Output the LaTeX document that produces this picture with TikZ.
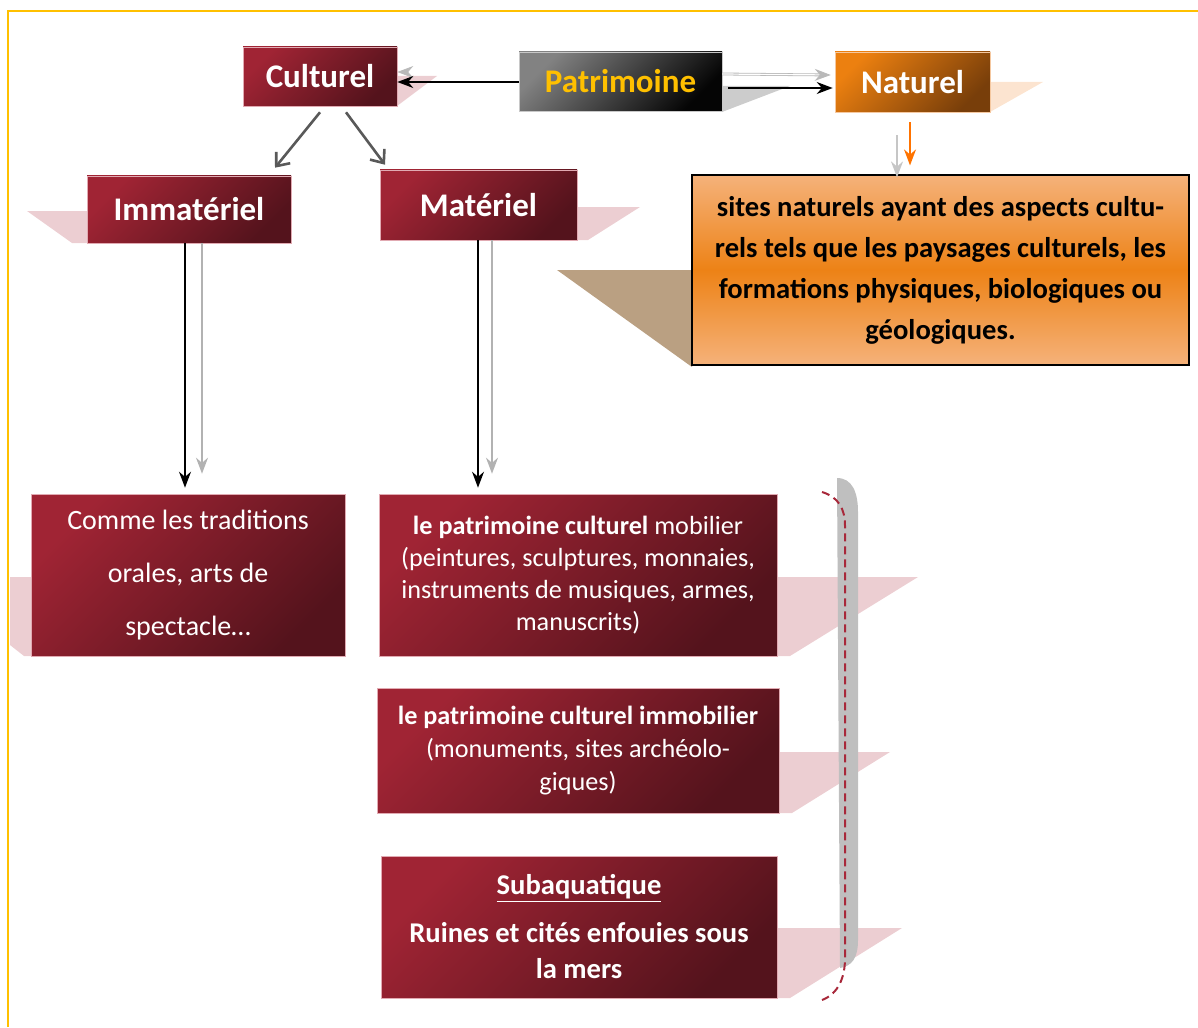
\documentclass[tikz,border=0pt]{standalone}
\usepackage{fontspec}
\setmainfont{Carlito}
\usetikzlibrary{arrows.meta}

\begin{document}
\begin{tikzpicture}[x=1pt,y=-1pt,>={Stealth[length=16pt,width=12pt]},
	red node/.style={draw=rededge,line width=0.6pt,top color=redA,bottom color=redB,shading angle=45,text=white,align=center,inner sep=0pt},
	gray node/.style={draw=grayedge,line width=0.6pt,top color=grayA,bottom color=grayB,shading angle=45,text=patryellow,align=center,inner sep=0pt},
	orange node/.style={draw=orgedge,line width=0.6pt,top color=natA,bottom color=natB,shading angle=45,text=white,align=center,inner sep=0pt},
	site node/.style={draw=black,line width=1.2pt,top color=siteA,bottom color=siteA,middle color=siteB,text=black,align=center,inner sep=0pt},
	head font/.style={font=\fontsize{33}{38}\selectfont\bfseries},
	pink shadow/.style={fill=pinksh},
	black arrow/.style={->,draw=black,line width=1.8pt},
	light arrow/.style={->,draw=gray!55,line width=1.6pt},
	branch arrow/.style={-{Straight Barb[length=11pt,width=18pt]},draw=black!65,line width=2.6pt},
	thin arrow/.style={->,draw=black,line width=1.4pt},
	thin light arrow/.style={->,draw=gray!60,line width=1.8pt}]

	\definecolor{redA}{RGB}{160,36,52}
	\definecolor{redB}{RGB}{84,19,28}
	\definecolor{rededge}{RGB}{225,170,178}
	\definecolor{grayA}{RGB}{130,130,130}
	\definecolor{grayB}{RGB}{5,5,5}
	\definecolor{grayedge}{RGB}{200,200,200}
	\definecolor{patryellow}{RGB}{255,192,0}
	\definecolor{natA}{RGB}{236,128,16}
	\definecolor{natB}{RGB}{120,62,10}
	\definecolor{orgedge}{RGB}{245,200,160}
	\definecolor{siteA}{RGB}{245,178,122}
	\definecolor{siteB}{RGB}{237,130,22}
	\definecolor{pinksh}{RGB}{236,206,210}
	\definecolor{peachsh}{RGB}{252,228,208}
	\definecolor{tansh}{RGB}{186,160,130}
	\definecolor{frame}{RGB}{255,192,0}
	\definecolor{bracered}{RGB}{168,40,58}

	\useasboundingbox (0,0) rectangle (1198,1027);
	\draw[frame,line width=2.5pt] (8,1027) -- (8,11) -- (1198,11);

	% perspective shadows behind the boxes
	\fill[pink shadow] (397,76) -- (437,76) -- (397,106) -- cycle;
	\fill[gray!40] (722,86) -- (790,86) -- (722,112) -- cycle;
	\fill[peachsh] (990,82) -- (1043,82) -- (990,112) -- cycle;
	\fill[pink shadow] (27,211) -- (87,211) -- (87,243) -- (72,243) -- cycle;
	\fill[pink shadow] (577,207) -- (640,207) -- (588,240) -- (577,240) -- cycle;
	\fill[tansh] (557,270) -- (692,270) -- (692,367) -- cycle;
	\fill[pink shadow] (10,577) -- (31,577) -- (31,656) -- (24,656) -- (10,645) -- cycle;
	\fill[pink shadow] (777,577) -- (918,577) -- (790,656) -- (777,656) -- cycle;
	\fill[pink shadow] (779,752) -- (890,752) -- (792,813) -- (779,813) -- cycle;
	\fill[pink shadow] (777,928) -- (902,928) -- (790,998) -- (777,998) -- cycle;

	% boxes
	\node[red node,head font,minimum width=154,minimum height=59] (cult) at (320,76.5) {Culturel};
	\node[gray node,head font,minimum width=203,minimum height=59] (patr) at (620.5,81.5) {Patrimoine};
	\node[orange node,head font,minimum width=155,minimum height=60] (nat) at (912.5,82) {Naturel};
	\node[red node,head font,minimum width=204,minimum height=67] (immat) at (189,209.5) {Immatériel};
	\node[red node,head font,minimum width=197,minimum height=70] (mat) at (478.5,205) {Matériel};
	\node[site node,minimum width=497,minimum height=190,font=\fontsize{28.6}{41}\selectfont\bfseries] (sites) at (940.5,270)
		{sites naturels ayant des aspects cultu-\\rels tels que les paysages culturels, les\\formations physiques, biologiques ou\\géologiques.};
	\node[red node,minimum width=314,minimum height=162,font=\fontsize{28}{53}\selectfont] (orales) at (188,575)
		{Comme les traditions\\orales, arts de\\spectacle…};
	\node[red node,minimum width=398,minimum height=162,font=\fontsize{26.2}{32}\selectfont] (mobil) at (578,575)
		{\textbf{le patrimoine culturel} mobilier\\(peintures, sculptures, monnaies,\\instruments de musiques, armes,\\manuscrits)};
	\node[red node,minimum width=402,minimum height=125,font=\fontsize{26.2}{33}\selectfont] (immob) at (578,750.5)
		{\textbf{le patrimoine culturel immobilier}\\(monuments, sites archéolo-\\giques)};
	\node[red node,minimum width=396,minimum height=142,font=\fontsize{28.6}{36}\selectfont\bfseries] (subaq) at (579,927)
		{\underline{Subaquatique}\\[12pt]Ruines et cités enfouies sous\\la mers};

	% bracket on the right
	\fill[gray!50] (837,478) .. controls (852,478) and (858,492) .. (858,512) -- (858,940)
		.. controls (858,958) and (852,966) .. (840,968) -- cycle;
	\draw[bracered,line width=2pt,dash pattern=on 8pt off 5pt] (822,492) .. controls (838,497) and (845,508) .. (845,526)
		-- (845,958) .. controls (845,978) and (838,994) .. (822,1000);

	% connectors
	\path ([xshift=-14,yshift=9.5]patr.west) edge[light arrow,double=white,double distance=1.2pt,line width=0.8pt] ([yshift=4.5]cult.east)
		([yshift=-0.5]patr.west) edge[black arrow] ([yshift=-5.5]cult.east)
		([yshift=7.5]patr.east) edge[light arrow,double=white,double distance=1.2pt,line width=0.8pt] ([xshift=-4,yshift=7]nat.west)
		([xshift=6,yshift=-6.5]patr.east) edge[black arrow] ([xshift=-2,yshift=-6]nat.west);
	\path ([yshift=-6]cult.south) edge[branch arrow] ([xshift=86,yshift=8]immat.north)
		([xshift=26,yshift=-6]cult.south) edge[branch arrow] ([xshift=-93.5,yshift=5]mat.north);
	\path ([xshift=-4]immat.south) edge[thin arrow] ([xshift=-3,yshift=6]orales.north)
		([xshift=13]immat.south) edge[thin light arrow] ([xshift=14,yshift=20]orales.north)
		([xshift=-0.5]mat.south) edge[thin arrow] ([xshift=-100,yshift=6]mobil.north)
		([xshift=13.5]mat.south) edge[thin light arrow] ([xshift=-86,yshift=20]mobil.north);
	\path ([xshift=-15.5,yshift=-23]nat.south) edge[->,draw=gray!45,line width=1.8pt] ([xshift=-43.5,yshift=-3]sites.north)
		([xshift=-2.5,yshift=-10]nat.south) edge[->,draw=orange!90!red,line width=1.6pt] ([xshift=-30.5,yshift=9]sites.north);
\end{tikzpicture}
\end{document}
